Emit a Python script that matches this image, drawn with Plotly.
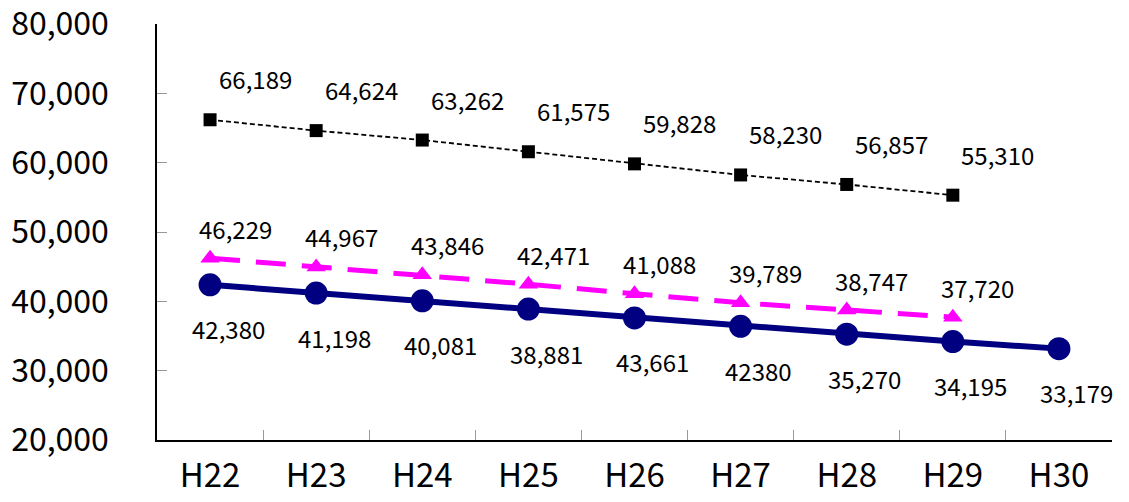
import plotly.graph_objects as go

categories = ["H22", "H23", "H24", "H25", "H26", "H27", "H28", "H29", "H30"]
black_vals = [66189, 64624, 63262, 61575, 59828, 58230, 56857, 55310]
magenta_vals = [46229, 44967, 43846, 42471, 41088, 39789, 38747, 37720]
navy_vals = [42380, 41198, 40081, 38881, 37600, 36400, 35270, 34195, 33179]
navy_labels = ["42,380", "41,198", "40,081", "38,881", "43,661", "42380", "35,270", "34,195", "33,179"]

FONT = "Noto Sans CJK JP"

fig = go.Figure()
fig.add_trace(go.Scatter(
    x=categories[:len(black_vals)], y=black_vals, mode="lines+markers",
    line=dict(color="black", width=1.8, dash="5px,3px"),
    marker=dict(symbol="square", size=13, color="black"),
))
fig.add_trace(go.Scatter(
    x=categories[:len(magenta_vals)], y=magenta_vals, mode="lines+markers",
    line=dict(color="#FF00FF", width=5, dash="30px,16px"),
    marker=dict(symbol="triangle-up", size=17, color="#FF00FF"),
))
fig.add_trace(go.Scatter(
    x=categories, y=navy_vals, mode="lines+markers",
    line=dict(color="#000080", width=6),
    marker=dict(symbol="circle", size=23, color="#000080"),
))

ann = []
lab_font = dict(family=FONT, size=24, color="black")
for c, v in zip(categories, black_vals):
    ann.append(dict(x=c, y=v, text=f"{v:,}", showarrow=False, xanchor="center",
                    yanchor="middle", xshift=45, yshift=41, font=lab_font))
for c, v in zip(categories, magenta_vals):
    ann.append(dict(x=c, y=v, text=f"{v:,}", showarrow=False, xanchor="center",
                    yanchor="middle", xshift=25, yshift=30, font=lab_font))
for c, v, t in zip(categories, navy_vals, navy_labels):
    ann.append(dict(x=c, y=v, text=t, showarrow=False, xanchor="center",
                    yanchor="middle", xshift=18, yshift=-44, font=lab_font))

# page body adds an 8px margin; size the figure so it fits the 1129x502 window
fig.update_layout(
    width=1121, height=494,
    margin=dict(l=149, r=17, t=16, b=62),
    paper_bgcolor="white", plot_bgcolor="white",
    showlegend=False,
    annotations=ann,
    font=dict(family=FONT, color="black"),
)
fig.update_xaxes(
    type="category", range=[-0.5, 8.5], automargin=False,
    showline=True, linecolor="black", linewidth=1.5,
    ticks="inside", tickson="boundaries", ticklen=10, tickcolor="#999999", tickwidth=1,
    showgrid=False, zeroline=False,
    tickfont=dict(family=FONT, size=33, color="black"),
    ticklabelstandoff=6, ticklabeloverflow="allow",
)
fig.update_yaxes(
    range=[20000, 80000], dtick=10000, tickformat=",d", automargin=False,
    showline=True, linecolor="black", linewidth=1.5,
    ticks="inside", ticklen=10, tickcolor="#999999", tickwidth=1,
    showgrid=False, zeroline=False,
    tickfont=dict(family=FONT, size=32, color="black"),
    ticklabelstandoff=40, ticklabeloverflow="allow",
)

fig.write_html("out.html")
